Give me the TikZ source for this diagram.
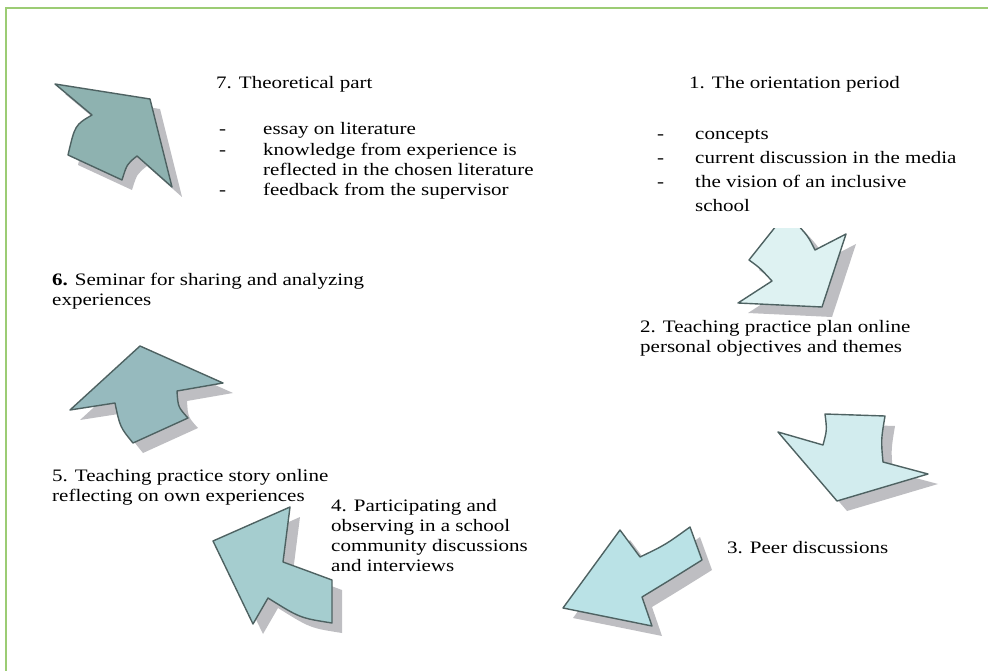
\documentclass[tikz,border=0pt]{standalone}
\usepackage{fontspec}
\setmainfont{Liberation Serif}[FakeStretch=1.2]
\usetikzlibrary{calc}

\definecolor{framegreen}{RGB}{156,204,116}
\definecolor{edgegray}{RGB}{78,98,98}
\definecolor{shadegray}{RGB}{190,190,194}
\definecolor{stepone}{RGB}{222,242,242}
\definecolor{steptwo}{RGB}{210,236,238}
\definecolor{stepthree}{RGB}{186,226,230}
\definecolor{stepfour}{RGB}{165,205,207}
\definecolor{stepfive}{RGB}{150,186,190}
\definecolor{stepsix}{RGB}{142,178,176}

% outlines of the six bent arrows
\newcommand{\arrowTwo}{(780,221) -- (749,260) .. controls (760,268) .. (772,281) -- (738,303) -- (822,307) -- (846,234) -- (815,250) .. controls (808,236) .. (794,221) -- cycle}
\newcommand{\arrowThree}{(825,414) -- (885,416) .. controls (881,440) .. (883,462) -- (928,474) -- (837,501) -- (778,432) -- (823,445) .. controls (827,430) .. (825,414) -- cycle}
\newcommand{\arrowFour}{(563,608) -- (620,530) -- (640,557) .. controls (665,545) .. (690,527) -- (702,560) .. controls (670,580) .. (642,597) -- (652,626) -- cycle}
\newcommand{\arrowFive}{(213,541) -- (290,507) -- (283,562) .. controls (305,570) .. (332,580) -- (332,623) .. controls (300,618) .. (268,598) -- (253,624) -- cycle}
\newcommand{\arrowSix}{(140,346) -- (223,383) -- (177,391) .. controls (178,407) .. (188,418) -- (133,443) .. controls (120,427) .. (115,403) -- (70,410) -- cycle}
\newcommand{\arrowSeven}{(55,84) -- (150,99) -- (172,187) -- (137,156) .. controls (127,164) .. (122,180) -- (68,155) .. controls (75,125) .. (92,115) -- cycle}

\begin{document}
\begin{tikzpicture}[x=1pt, y=-1pt,
    txt/.style={anchor=base west, inner sep=0pt, font=\fontsize{17.5}{20.3}\selectfont},
    bent/.style={draw=edgegray, line width=1.4pt, line join=round},
    shade/.style={fill=shadegray, shift={(10,10)}}]
  \useasboundingbox (0,0) rectangle (988,671);
  \draw[framegreen, line width=2.6pt] (6,671) -- (6,8) -- (988,8);

  % arrows with their shadows
  \begin{scope}
    \clip (700,228.5) rectangle (900,330);
    \fill[shade] \arrowTwo;
    \draw[bent, fill=stepone] \arrowTwo;
  \end{scope}
  \fill[shade] \arrowThree;
  \draw[bent, fill=steptwo] \arrowThree;
  \fill[shade] \arrowFour;
  \draw[bent, fill=stepthree] \arrowFour;
  \fill[shade] \arrowFive;
  \draw[bent, fill=stepfour] \arrowFive;
  \fill[shade] \arrowSix;
  \draw[bent, fill=stepfive] \arrowSix;
  \fill[shade] \arrowSeven;
  \draw[bent, fill=stepsix] \arrowSeven;

  % texts
  \node[txt] (orient) at (689,89) {1. The orientation period};
  \node[txt] (orientlist) at (657,140) {\renewcommand{\arraystretch}{1.18}%
    \begin{tabular}[t]{@{}l@{\hspace{31pt}}l@{}}
      - & concepts\\
      - & current discussion in the media\\
      - & the vision of an inclusive\\
        & school
    \end{tabular}};
  \node[txt] (plan) at (640,332) {\begin{tabular}[t]{@{}l@{}}
      2. Teaching practice plan online\\
      personal objectives and themes
    \end{tabular}};
  \node[txt] (peer) at (727,553) {3. Peer discussions};
  \node[txt] (observe) at (331,511) {\begin{tabular}[t]{@{}l@{}}
      4. Participating and\\
      observing in a school\\
      community discussions\\
      and interviews
    \end{tabular}};
  \node[txt] (story) at (52,481) {\begin{tabular}[t]{@{}l@{}}
      5. Teaching practice story online\\
      reflecting on own experiences
    \end{tabular}};
  \node[txt] (seminar) at (52,285) {\begin{tabular}[t]{@{}l@{}}
      \textbf{6.} Seminar for sharing and analyzing\\
      experiences
    \end{tabular}};
  \node[txt] (theory) at (216,89) {7. Theoretical part};
  \node[txt] (theorylist) at (219,135) {\begin{tabular}[t]{@{}l@{\hspace{37pt}}l@{}}
      - & essay on literature\\
      - & knowledge from experience is\\
        & reflected in the chosen literature\\
      - & feedback from the supervisor
    \end{tabular}};
\end{tikzpicture}
\end{document}
